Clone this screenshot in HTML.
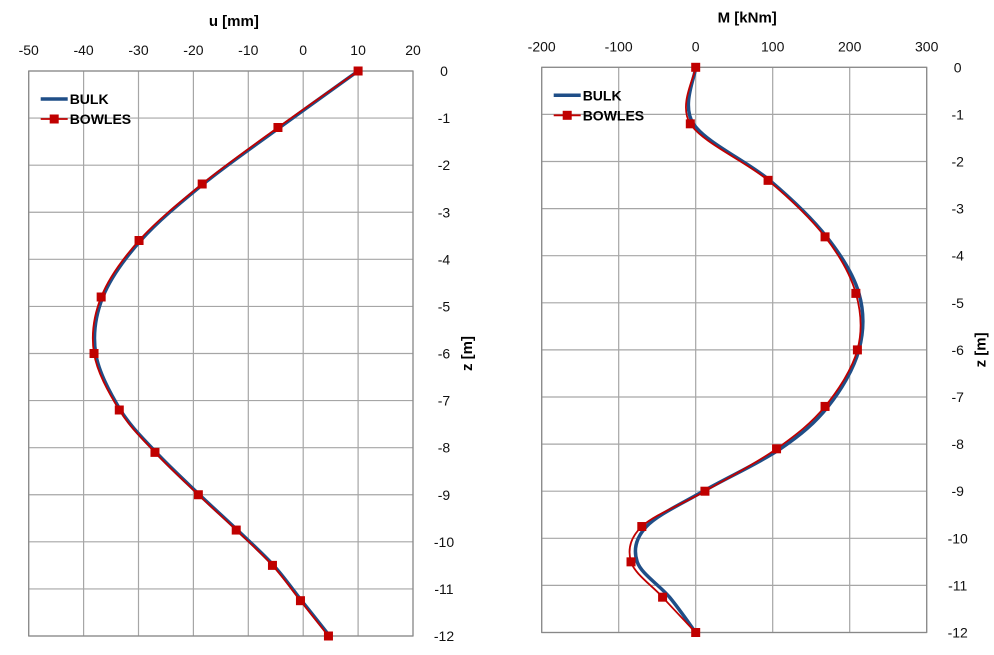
<!DOCTYPE html>
<html><head><meta charset="utf-8"><style>
body{margin:0;background:#fff;width:994px;height:650px;overflow:hidden}
svg{font-family:"Liberation Sans",Arial,sans-serif}
</style></head><body>
<svg width="994" height="650">
<g id="c1"></g>
<g id="c2"></g>
</svg>
<script>
const zVals=[0,-1.2,-2.4,-3.6,-4.8,-6,-7.2,-8.1,-9,-9.75,-10.5,-11.25,-12];
const uBulk=[10,-4.3,-18.2,-29.6,-36.5,-37.8,-33.3,-26.8,-18.9,-12.0,-5.4,-0.3,4.8];
const uBowles=[10,-4.6,-18.4,-29.9,-36.8,-38.1,-33.5,-27.0,-19.1,-12.2,-5.6,-0.5,4.6];
const mBulk=[0,-3,96,170,212,212,172,110,10,-64,-76,-34,0];
const mBowles=[0,-7,94,168,208,210,168,105,12,-70,-84,-43,0];
const uTicks=[-50,-40,-30,-20,-10,0,10,20];
const mTicks=[-200,-100,0,100,200,300];
const zTicks=[0,-1,-2,-3,-4,-5,-6,-7,-8,-9,-10,-11,-12];
const NS="http://www.w3.org/2000/svg";
function mk(p,tag,attrs,txt){const e=document.createElementNS(NS,tag);for(const k in attrs)e.setAttribute(k,attrs[k]);if(txt!==undefined)e.textContent=txt;p.appendChild(e);return e;}
function spline(pts){let d=`M${pts[0][0]},${pts[0][1]}`;for(let i=0;i<pts.length-1;i++){const p0=pts[Math.max(0,i-1)],p1=pts[i],p2=pts[i+1],p3=pts[Math.min(pts.length-1,i+2)];const t=1/6;d+=` C${p1[0]+(p2[0]-p0[0])*t},${p1[1]+(p2[1]-p0[1])*t} ${p2[0]-(p3[0]-p1[0])*t},${p2[1]-(p3[1]-p1[1])*t} ${p2[0]},${p2[1]}`;}return d;}
function chart(g,cfg){
 const X=v=>cfg.x0+(v-cfg.xmin)/(cfg.xmax-cfg.xmin)*(cfg.x1-cfg.x0);
 const Y=z=>cfg.y0+(0-z)/12*(cfg.y1-cfg.y0);
 cfg.xt.forEach(v=>{const l=mk(g,'line',{x1:X(v),x2:X(v),y1:cfg.y0,y2:cfg.y1,stroke:'#a6a6a6','stroke-width':1.2});
  
  const t=mk(g,'text',{x:X(v),y:cfg.y0-16,'text-anchor':'middle','font-size':14,fill:'#111'},v);
  });
 zTicks.forEach(z=>{const l=mk(g,'line',{x1:cfg.x0,x2:cfg.x1,y1:Y(z),y2:Y(z),stroke:'#a6a6a6','stroke-width':1.2});
  
  const t=mk(g,'text',{x:cfg.x1+31,y:Y(z)+5,'text-anchor':'middle','font-size':14,fill:'#111'},z);
  });
 const r=mk(g,'rect',{x:cfg.x0,y:cfg.y0,width:cfg.x1-cfg.x0,height:cfg.y1-cfg.y0,fill:'none',stroke:'#888','stroke-width':1.2});
 
 const tt=mk(g,'text',{x:(cfg.x0+cfg.x1)/2+13,y:cfg.y0-45,'text-anchor':'middle','font-size':15,'font-weight':'bold'},cfg.title);
 
 const yt=mk(g,'text',{x:cfg.x1+59,y:(cfg.y0+cfg.y1)/2,'text-anchor':'middle','font-size':15,'font-weight':'bold',transform:`rotate(-90 ${cfg.x1+59} ${(cfg.y0+cfg.y1)/2})`},'z [m]');
 
 const bp=cfg.bulk.map((v,i)=>[X(v),Y(zVals[i])]);
 const b=mk(g,'path',{d:spline(bp),fill:'none',stroke:'#1f4e87','stroke-width':3.5});
 
 const wp=cfg.bow.map((v,i)=>[X(v),Y(zVals[i])]);
 const w=mk(g,'path',{d:spline(wp),fill:'none',stroke:'#c00000','stroke-width':1.8});
 
 wp.forEach(p=>{const m=mk(g,'rect',{x:p[0]-4.5,y:p[1]-4.5,width:9,height:9,fill:'#c00000'});
  });
 const lx=cfg.x0+12,ly=cfg.y0+28;
 const l1=mk(g,'line',{x1:lx,x2:lx+27,y1:ly,y2:ly,stroke:'#1f4e87','stroke-width':3.5});
 
 const t1=mk(g,'text',{x:lx+29,y:ly+5,'font-size':14,'font-weight':'bold'},'BULK');
 
 const l2=mk(g,'line',{x1:lx,x2:lx+27,y1:ly+20,y2:ly+20,stroke:'#c00000','stroke-width':1.8});
 
 const m2=mk(g,'rect',{x:lx+9,y:ly+15.5,width:9,height:9,fill:'#c00000'});
 
 const t2=mk(g,'text',{x:lx+29,y:ly+25,'font-size':14,'font-weight':'bold'},'BOWLES');
 
}
chart(document.getElementById('c1'),{x0:28.7,x1:413,y0:71,y1:636,xmin:-50,xmax:20,xt:uTicks,title:'u [mm]',bulk:uBulk,bow:uBowles});
chart(document.getElementById('c2'),{x0:541.7,x1:926.7,y0:67.3,y1:632.5,xmin:-200,xmax:300,xt:mTicks,title:'M [kNm]',bulk:mBulk,bow:mBowles});
</script>
</body></html>
